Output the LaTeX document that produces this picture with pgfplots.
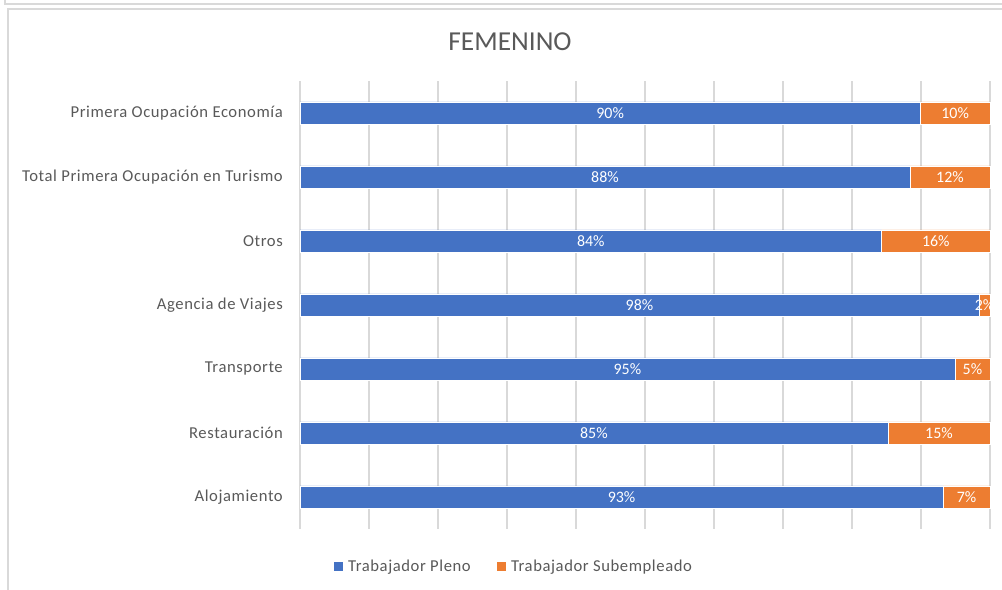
\documentclass[border=0pt]{standalone}
\usepackage{fontspec}
\setmainfont{Carlito}
\newfontfamily\lblfont{Carlito}[LetterSpace=3.5]
\usepackage{pgfplots}
\pgfplotsset{compat=1.18}
\definecolor{cblue}{HTML}{4472C4}
\definecolor{corange}{HTML}{ED7D31}
\definecolor{ctext}{HTML}{595959}
\definecolor{cgrid}{HTML}{D9D9D9}

\begin{document}
\begin{tikzpicture}
\useasboundingbox (0,0) rectangle (1002bp,590bp);
\begin{scope}
  \clip (0,0) rectangle (1002bp,590bp);
  % frames of the chart boxes
  \draw[cgrid, line width=1.2bp] (5bp,600bp) -- (5bp,586bp) -- (1010bp,586bp);
  \draw[cgrid, line width=1.2bp] (8bp,-10bp) -- (8bp,581bp) -- (1010bp,581bp);
\end{scope}
\node[text=ctext, font=\fontsize{27.5}{32}\selectfont] at (510bp,548bp) {FEMENINO};

\begin{axis}[
  at={(300bp,61bp)}, anchor=south west,
  width=690bp, height=448bp, scale only axis,
  xbar stacked, bar width=22bp,
  xmin=0, xmax=100, ymin=-0.5, ymax=6.5,
  axis line style={draw=none},
  xtick={0,10,...,100}, xticklabels={},
  xmajorgrids, grid style={cgrid, line width=1.2bp},
  ytick={0,...,6},
  yticklabels={Alojamiento, Restauración, Transporte, Agencia de Viajes, Otros, Total Primera Ocupación en Turismo, Primera Ocupación Economía},
  major tick length=0pt, tick style={draw=none},
  yticklabel style={text=ctext, font=\lblfont\fontsize{16.7}{19}\selectfont, inner sep=0pt, xshift=-17bp},
  /pgf/number format/assume math mode=true,
  visualization depends on={rawx \as \rawx},
  nodes near coords={\pgfmathprintnumber[fixed,precision=0]{\rawx}\%},
  every node near coord/.append style={anchor=center, text=white,
    font=\fontsize{16}{18}\selectfont},
  clip=false,
  legend columns=2,
  legend style={at={(0.31,-0.083)}, anchor=center, draw=none, fill=none,
    font=\lblfont\fontsize{16.7}{19}\selectfont, text=ctext,
    /tikz/every even column/.append style={column sep=24bp}},
  legend image code/.code={\fill[#1, draw=none] (0bp,-4.5bp) rectangle (9bp,4.5bp); \path (12bp,0);},
]
\addplot[fill=cblue, draw=white, line width=0.6bp] coordinates {
  (93.2,0) (85.2,1) (94.9,2) (98.4,3) (84.3,4) (88.4,5) (89.9,6)
};
\addplot[fill=corange, draw=white, line width=0.6bp] coordinates {
  (6.8,0) (14.8,1) (5.1,2) (1.6,3) (15.7,4) (11.6,5) (10.1,6)
};
\legend{Trabajador Pleno, Trabajador Subempleado}
\end{axis}
\end{tikzpicture}
\end{document}
